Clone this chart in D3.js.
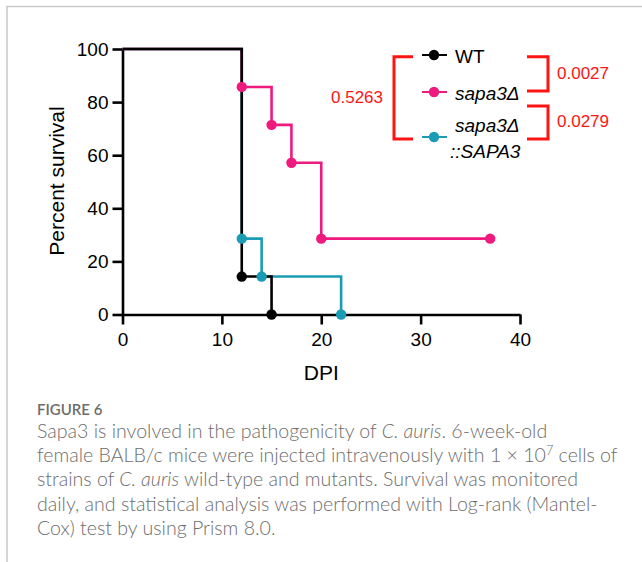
<!DOCTYPE html>
<html>
<head>
<meta charset="utf-8">
<script src="https://cdn.jsdelivr.net/npm/d3@7"></script>
<style>
  html, body { margin: 0; padding: 0; background: #fff; }
  svg { display: block; }
</style>
</head>
<body>
<svg id="chart" width="642" height="562"></svg>
<script>
// survival data (percent survival at each day)
var groups = [ "WT", "sapa3Δ", "sapa3Δ::SAPA3" ];
var wtDays = [ 0, 12, 15 ];
var wtSurvival = [ 100, 14.29, 0 ];
var sapa3Days = [ 0, 12, 15, 17, 20, 37 ];
var sapa3Survival = [ 100, 85.71, 71.43, 57.14, 28.57, 28.57 ];
var compDays = [ 0, 12, 14, 22 ];
var compSurvival = [ 100, 28.57, 14.29, 0 ];
var xTicks = [ 0, 10, 20, 30, 40 ];
var yTicks = [ 0, 20, 40, 60, 80, 100 ];
var pValues = [ "0.5263", "0.0027", "0.0279" ];

var colors = [ "#000000", "#ee1a7e", "#1a9cb4" ];
var bracketRed = "#ff1414";
var axisFont = "'Liberation Sans', Arial, sans-serif";

var series = [
    { name: groups[ 0 ], days: wtDays, surv: wtSurvival, color: colors[ 0 ] },
    { name: groups[ 1 ], days: sapa3Days, surv: sapa3Survival, color: colors[ 1 ] },
    { name: groups[ 2 ], days: compDays, surv: compSurvival, color: colors[ 2 ] }
].map( function ( s ) {
    s.pts = s.days.map( function ( d, i ) { return { x: d, y: s.surv[ i ] } } );
    return s;
});

var svg = d3.select( "#chart" );

// figure frame (top + left rule)
svg.append( "path" )
    .attr( "d", "M7,562V6.5H642" )
    .attr( "fill", "none" )
    .attr( "stroke", "#c9c9c9" )
    .attr( "stroke-width", 1.5 );

var x = d3.scaleLinear().domain( [ 0, 40 ] ).range( [ 122.5, 520 ] );
var y = d3.scaleLinear().domain( [ 0, 100 ] ).range( [ 314.5, 49 ] );

// axes
var yAxis = svg.append( "g" )
    .attr( "transform", "translate(" + x( 0 ) + ",0)" )
    .call( d3.axisLeft( y ).tickValues( yTicks ).tickSize( 10 ).tickSizeOuter( 0 ).tickPadding( 4 ) );
var xAxis = svg.append( "g" )
    .attr( "transform", "translate(0," + y( 0 ) + ")" )
    .call( d3.axisBottom( x ).tickValues( xTicks ).tickSize( 10 ).tickSizeOuter( 0 ).tickPadding( 8 ) );

[ yAxis, xAxis ].forEach( function ( ax ) {
    ax.select( ".domain" ).attr( "stroke", "#000" ).attr( "stroke-width", 2.6 );
    ax.selectAll( ".tick line" ).attr( "stroke", "#000" ).attr( "stroke-width", 2.6 );
    ax.selectAll( ".tick text" )
        .attr( "fill", "#000" )
        .style( "font", "19px " + axisFont );
});

svg.append( "text" )
    .attr( "transform", "translate(64,181) rotate(-90)" )
    .attr( "text-anchor", "middle" )
    .style( "font", "21px " + axisFont )
    .text( "Percent survival" );

svg.append( "text" )
    .attr( "x", x( 20 ) )
    .attr( "y", 380 )
    .attr( "text-anchor", "middle" )
    .style( "font", "21px " + axisFont )
    .text( "DPI" );

// step curves, then the dots on top
var line = d3.line()
    .x( function ( d ) { return x( d.x ) } )
    .y( function ( d ) { return y( d.y ) } )
    .curve( d3.curveStepAfter );

var drawOrder = [ series[ 2 ], series[ 1 ], series[ 0 ] ];
svg.selectAll( "path.curve" )
    .data( drawOrder )
    .enter().append( "path" )
    .attr( "class", "curve" )
    .attr( "d", function ( s ) { return line( s.pts ) } )
    .attr( "fill", "none" )
    .attr( "stroke", function ( s ) { return s.color } )
    .attr( "stroke-width", 2.6 );

drawOrder.forEach( function ( s ) {
    svg.selectAll( null )
        .data( s.pts.slice( 1 ) )
        .enter().append( "circle" )
        .attr( "cx", function ( d ) { return x( d.x ) } )
        .attr( "cy", function ( d ) { return y( d.y ) } )
        .attr( "r", 5.2 )
        .attr( "fill", s.color );
});

// legend
var legendY = [ 55, 92, 137 ];
series.forEach( function ( s, i ) {
    var g = svg.append( "g" ).attr( "transform", "translate(434," + legendY[ i ] + ")" );
    g.append( "line" )
        .attr( "x1", -12 ).attr( "x2", 13 )
        .attr( "stroke", s.color ).attr( "stroke-width", 2 );
    g.append( "circle" ).attr( "r", 5.2 ).attr( "fill", s.color );
});
svg.append( "text" )
    .attr( "x", 455 ).attr( "y", 63 )
    .style( "font", "19px " + axisFont )
    .text( groups[ 0 ] );
svg.append( "text" )
    .attr( "x", 455 ).attr( "y", 100 )
    .style( "font", "italic 19px " + axisFont )
    .text( groups[ 1 ] );
var comp = groups[ 2 ].split( "::" );
svg.append( "text" )
    .attr( "x", 455 ).attr( "y", 132 )
    .style( "font", "italic 19px " + axisFont )
    .text( comp[ 0 ] );
svg.append( "text" )
    .attr( "x", 450 ).attr( "y", 158 )
    .style( "font", "italic 19px " + axisFont )
    .text( "::" + comp[ 1 ] );

// significance brackets
var brackets = [
    { d: "M413,56.7H394V139H413", tx: 383, ty: 102.7, anchor: "end", p: pValues[ 0 ] },
    { d: "M527,56.7H548V91H527", tx: 557, ty: 79, anchor: "start", p: pValues[ 1 ] },
    { d: "M527,106H548V139H527", tx: 557, ty: 126.7, anchor: "start", p: pValues[ 2 ] }
];
brackets.forEach( function ( b ) {
    svg.append( "path" )
        .attr( "d", b.d )
        .attr( "fill", "none" )
        .attr( "stroke", bracketRed )
        .attr( "stroke-width", 3 );
    svg.append( "text" )
        .attr( "x", b.tx ).attr( "y", b.ty )
        .attr( "text-anchor", b.anchor )
        .attr( "fill", bracketRed )
        .style( "font", "17px " + axisFont )
        .text( b.p );
});

// caption
var capFont = "Lato, 'Open Sans', sans-serif";
var capColor = "#6d6d6d";
svg.append( "text" )
    .attr( "x", 37 ).attr( "y", 415 )
    .attr( "fill", capColor )
    .style( "font", "600 15px " + capFont )
    .text( "FIGURE 6" );

var captionLines = [
    [ [ "Sapa3 is involved in the pathogenicity of " ], [ "C. auris", "i" ], [ ". 6-week-old" ] ],
    [ [ "female BALB/c mice were injected intravenously with 1 × 10" ], [ "7", "sup" ], [ " cells of" ] ],
    [ [ "strains of " ], [ "C. auris", "i" ], [ " wild-type and mutants. Survival was monitored" ] ],
    [ [ "daily, and statistical analysis was performed with Log-rank (Mantel-" ] ],
    [ [ "Cox) test by using Prism 8.0." ] ]
];
var capLines = svg.selectAll( "text.cap" )
    .data( captionLines )
    .enter().append( "text" )
    .attr( "class", "cap" )
    .attr( "x", 37 )
    .attr( "y", function ( d, i ) { return 437.8 + i * 24.3 } )
    .attr( "fill", capColor )
    .style( "font-family", capFont )
    .style( "font-weight", 300 )
    .style( "font-size", "18px" );
capLines.each( function ( segs ) {
    var t = d3.select( this );
    segs.forEach( function ( s ) {
        var sp = t.append( "tspan" ).text( s[ 0 ] );
        if ( s[ 1 ] === "i" ) sp.style( "font-style", "italic" );
        if ( s[ 1 ] === "sup" ) sp.attr( "dy", -7 ).style( "font-size", "12px" );
        if ( s[ 0 ] === " cells of" ) sp.attr( "dy", 7 );
    });
});
// scale caption font so the longest line spans like the original
var w = capLines.filter( function ( d, i ) { return i === 1 } ).node().getComputedTextLength();
var fs = 18 * 581 / w;
capLines.style( "font-size", fs + "px" );
capLines.selectAll( "tspan" ).filter( function () { return this.textContent === "7" } )
    .style( "font-size", ( fs * 0.65 ) + "px" );
</script>
</body>
</html>
